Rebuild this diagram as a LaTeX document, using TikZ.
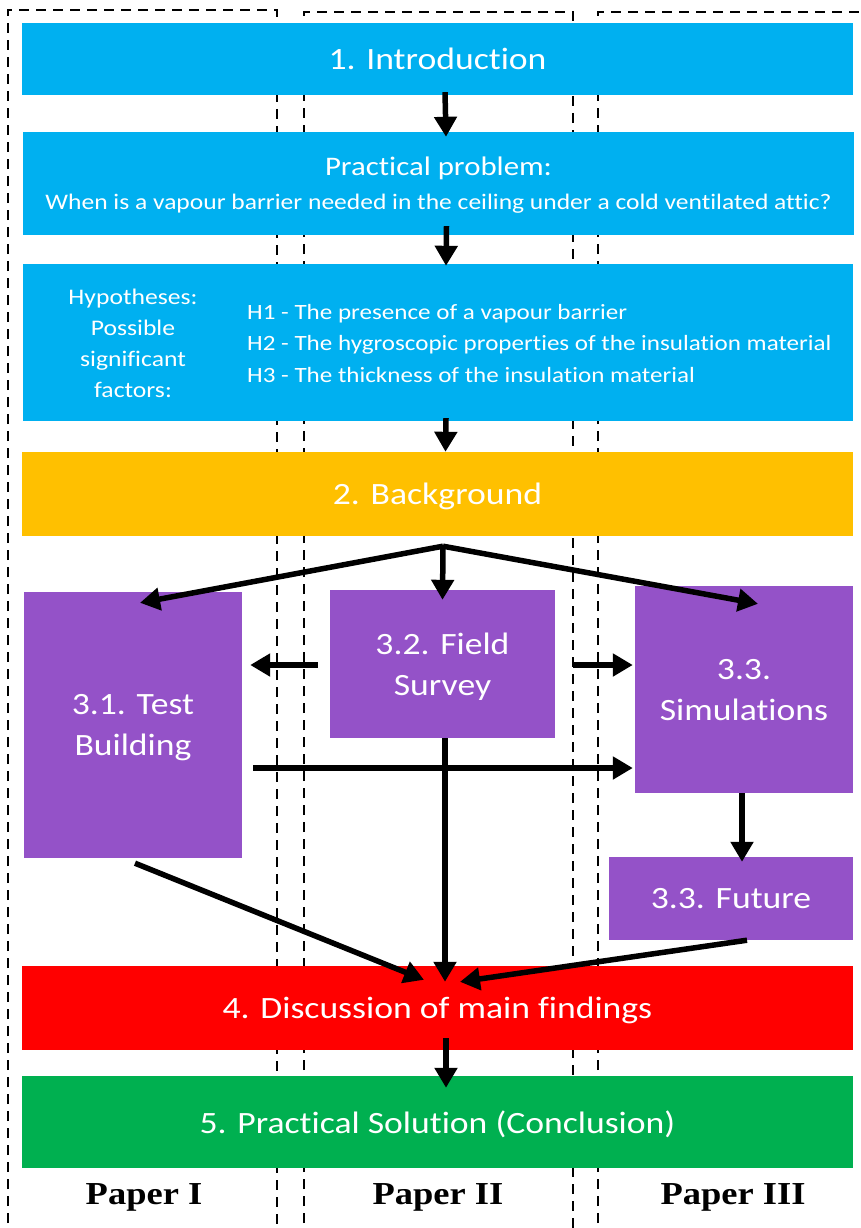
\documentclass[tikz,border=0pt]{standalone}
\usepackage{fontspec}
\setmainfont{Carlito}[Ligatures=CommonOff,FakeStretch=1.15]
\newfontfamily\paperfont{Liberation Serif}[FakeStretch=1.14]
\usetikzlibrary{arrows.meta,calc}

\definecolor{introblue}{RGB}{0,176,240}
\definecolor{bgorange}{RGB}{255,192,0}
\definecolor{methpurple}{RGB}{148,82,200}
\definecolor{discred}{RGB}{255,0,0}
\definecolor{solgreen}{RGB}{0,176,80}

\begin{document}
\begin{tikzpicture}[x=1pt,y=-1pt,
	box/.style={rectangle,inner sep=0pt,text=white,align=center,text depth=0pt,
		font=\fontsize{31}{41}\selectfont},
	arr/.style={line width=5.5pt,-{Triangle[length=20pt,width=22pt]}},
	lane/.style={line width=2.8pt,dash pattern=on 10pt off 7pt},
	paper/.style={font=\paperfont\bfseries\fontsize{32}{36}\selectfont}]
	
	\useasboundingbox (0,0) rectangle (861,1228);
	
	% paper lanes
	\begin{scope}
		\clip (0,0) rectangle (861,1228);
		\draw[lane](8,1240)--(8,10)--(277,10)--(277,1240);
		\draw[lane](304,1240)--(304,12)--(573,12)--(573,1240);
		\draw[lane](598,1240)--(598,12)--(875,12);
	\end{scope}
	
	% wide boxes
	\node[box,fill=introblue,minimum width=831pt,minimum height=72pt] (intro) at (437.5,59) {1. Introduction};
	\node[box,fill=introblue,minimum width=831pt,minimum height=103pt] (prob) at (438.5,183.5)
	{\fontsize{26.8}{32}\selectfont Practical problem:\\[-7pt]
		\fontsize{22.2}{26}\selectfont When is a vapour barrier needed in the ceiling under a cold ventilated attic?};
	\node[box,fill=introblue,minimum width=830pt,minimum height=157pt] (hyp) at (438,342.5) {};
	\node[box,font=\fontsize{22.3}{31}\selectfont] (hyplabel) at (133,343)
	{Hypotheses:\\Possible\\significant\\factors:};
	\node[box,anchor=west,align=left,font=\fontsize{21.8}{31.5}\selectfont] (hyplist) at (247,343)
	{H1 - The presence of a vapour barrier\\
		H2 - The hygroscopic properties of the insulation material\\
		H3 - The thickness of the insulation material};
	\node[box,fill=bgorange,minimum width=831pt,minimum height=84pt] (bg) at (437.5,494) {2. Background};
	
	% methods
	\node[box,fill=methpurple,minimum width=218pt,minimum height=266pt] (test) at (133,725) {3.1. Test\\Building};
	\node[box,fill=methpurple,minimum width=225pt,minimum height=148pt] (field) at (442.5,664) {3.2. Field\\Survey};
	\node[box,fill=methpurple,minimum width=218pt,minimum height=207pt] (sim) at (744,689.5) {3.3.\\Simulations};
	\node[box,fill=methpurple,minimum width=244pt,minimum height=83pt] (future) at (731,898.5) {3.3. Future};
	
	\node[box,fill=discred,minimum width=831pt,minimum height=84pt] (disc) at (437.5,1008) {4. Discussion of main findings};
	\node[box,fill=solgreen,minimum width=831pt,minimum height=92pt] (sol) at (437.5,1122) {5. Practical Solution (Conclusion)};
	
	\node[paper] (p1) at (144,1197) {Paper I};
	\node[paper] (p2) at (438,1197) {Paper II};
	\node[paper] (p3) at (733,1197) {Paper III};
	
	% arrows
	\coordinate (fan) at ($(bg.south)+(5.5,10)$);
	\draw[arr]($(intro.south)+(7.5,-3)$)--($(prob.north)+(7.5,5)$);
	\draw[arr]($(prob.south)+(8,-9)$)--($(hyp.north)+(8,2)$);
	\draw[arr]($(hyp.south)+(8,-3)$)--($(bg.north)+(8,0)$);
	
	\draw[arr](fan)--($(test.north)+(7,11)$);
	\draw[arr](fan)--($(field.north)+(0,10)$);
	\draw[arr](fan)--($(sim.north)+(14,18)$);
	
	\draw[arr]($(field.west)+(-12,1)$)--($(test.east)+(8,-60)$);
	\draw[arr]($(field.east)+(18,1)$)--($(sim.west)+(-2,-24.5)$);
	\draw[arr]($(test.east)+(11,43)$)--($(sim.west)+(-2,78.5)$);
	
	\draw[arr]($(sim.south)+(-2,0)$)--($(future.north)+(11,5)$);
	
	\draw[arr]($(field.south)+(2.5,0)$)--($(disc.north)+(7.5,16)$);
	\draw[arr]($(test.south)+(2,5)$)--($(disc.north)+(-13.5,14)$);
	\draw[arr]($(future.south)+(16,0)$)--($(disc.north)+(22.5,16)$);
	
	\draw[arr]($(disc.south)+(8.5,-12)$)--($(sol.north)+(8.5,12)$);
	
\end{tikzpicture}
\end{document}
